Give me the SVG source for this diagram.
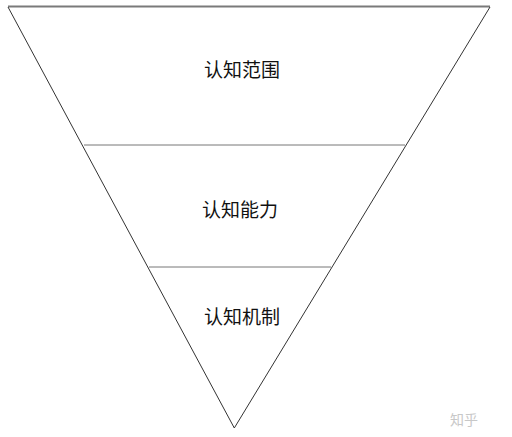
<svg xmlns="http://www.w3.org/2000/svg" width="512" height="437" viewBox="0 0 512 437">
<style>
.t{font-family:"Noto Sans CJK SC","Noto Sans",sans-serif;font-size:19px;fill:#111;text-anchor:middle;dominant-baseline:central}
.s{stroke:#333;stroke-width:1;fill:none}
.h{stroke:#777;stroke-width:1;fill:none}
</style>
<rect width="512" height="437" fill="#fff"/>
<g id="connectors">
<line x1="8" y1="6.5" x2="490" y2="6.5" stroke="#7a7a7a" stroke-width="2"/>
<line class="s" x1="8" y1="7" x2="234.3" y2="428"/>
<line class="s" x1="490" y1="7" x2="234.3" y2="428"/>
<line class="h" x1="84" y1="145" x2="405" y2="145"/>
<line class="h" x1="149" y1="267" x2="331" y2="267"/>
</g>
<g id="scope"><text class="t" x="242" y="68">认知范围</text></g>
<g id="ability"><text class="t" x="240" y="208">认知能力</text></g>
<g id="mechanism"><text class="t" x="242" y="315">认知机制</text></g>
<g id="watermark"><text x="450" y="425" font-family="'Noto Sans CJK SC',sans-serif" font-size="14" fill="#c8c8c8">知乎</text></g>
</svg>
